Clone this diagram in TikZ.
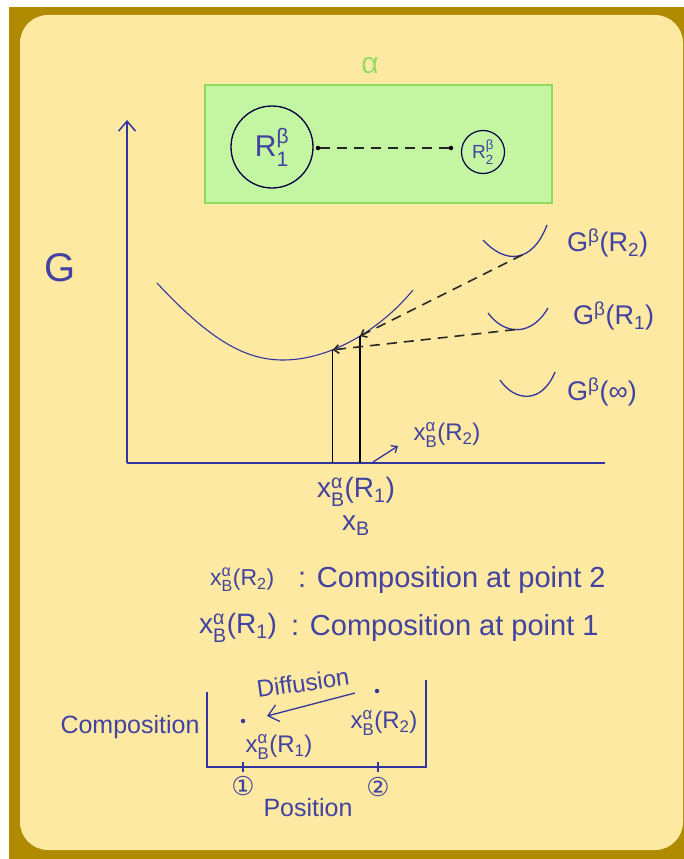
\documentclass[tikz,border=0pt]{standalone}
\usepackage{amsmath}
\usepackage{fontspec}
\setmainfont{Liberation Sans}
\newfontfamily\djv{DejaVu Sans}
\usetikzlibrary{arrows.meta}
\definecolor{gold}{HTML}{B08A00}
\definecolor{paper}{HTML}{FDE9A1}
\definecolor{boxfill}{HTML}{C3F5A3}
\definecolor{boxline}{HTML}{8EDB5C}
\definecolor{alphac}{HTML}{96DC64}
\definecolor{ink}{HTML}{4242A0}
\definecolor{curve}{HTML}{3434A0}
\newcommand\supsubx[2]{\ensuremath{{}^{\text{#1}}_{\text{#2}}}}
\newcommand\subx[1]{\ensuremath{{}_{\text{#1}}}}
\newcommand\supx[1]{\ensuremath{{}^{\text{#1}}}}
\newcommand\xBa[1]{x\supsubx{α}{B}(R\subx{#1})}
\newcommand\fs[1]{\fontsize{#1}{#1}\selectfont}
\begin{document}
\begin{tikzpicture}[x=1pt,y=-1pt,
  lbl/.style={text=ink, inner sep=0pt},
  curvesty/.style={draw=curve, line width=1.3pt},
  axis/.style={draw=curve, line width=1.5pt},
  vline/.style={draw=black, line width=1.6pt},
  dashsty/.style={draw=black!85, line width=1.6pt, dash pattern=on 10pt off 7pt},
  dotsty/.style={circle, fill=#1, inner sep=0pt, minimum size=4.5pt},
  barb/.style={-{Straight Barb[length=#1,width=1.7*#1]}}]
\useasboundingbox (0,0) rectangle (684,859);
\fill[white] (0,0) rectangle (684,859);
\fill[gold] (9,7) rectangle (684,859);
\fill[paper, rounded corners=28pt] (20,15) rectangle (683,850);

% alpha phase box
\node[lbl, text=alphac, font=\fs{30}] (alpha) at (370,66) {α};
\node[draw=boxline, fill=boxfill, line width=1.5pt, minimum width=347pt,
      minimum height=118pt, inner sep=0pt] (phase) at (378.5,144) {};
\node[circle, draw=black!75!blue, line width=1.3pt, minimum size=82pt, inner sep=0pt,
      text=ink, font=\fs{30}] (r1) at (272,147) {R\supsubx{β}{1}};
\node[circle, draw=black!75!blue, line width=1.2pt, minimum size=43pt, inner sep=0pt,
      text=ink, font=\fs{19}] (r2) at (483,152) {R\supsubx{β}{2}};
\node[dotsty=black] (d1) at (318,148) {};
\node[dotsty=black] (d2) at (451,148) {};
\draw[dashsty] (d1) -- (d2);

% axes
\coordinate (O) at (127,463);
\coordinate (ytop) at (127,120);
\coordinate (xend) at (605,463);
\draw[axis, barb=10pt] (O) -- (ytop);
\draw[axis] (O) -- (xend);
\node[lbl, font=\fs{40}] (G) at (60,268) {G};

% alpha free energy curve
\draw[curvesty, line width=1.1pt] (157,283) .. controls (210,340) and (245,360) .. (283,360)
   .. controls (330,360) and (380,330) .. (413,290)
   coordinate[pos=0.35] (t1) coordinate[pos=0.55] (t2);
\draw[vline] (t1) -- (t1 |- O);
\draw[vline] (t2) -- (t2 |- O);

% beta curves
\draw[curvesty] (483,240) .. controls (505,264) and (532,264) .. (547,225) coordinate[pos=0.57] (g2min);
\draw[curvesty] (488,313) .. controls (505,336) and (532,336) .. (548,308) coordinate[pos=0.45] (g1min);
\draw[curvesty] (500,380) .. controls (515,402) and (542,404) .. (555,372);
\draw[dashsty, barb=5pt] (g2min) -- (t2);
\draw[dashsty, barb=5pt] (g1min) -- (t1);

\node[lbl, anchor=west, font=\fs{27}] (lg2) at (567,243) {G\supx{β}(R\subx{2})};
\node[lbl, anchor=west, font=\fs{27}] (lg1) at (573,316) {G\supx{β}(R\subx{1})};
\node[lbl, anchor=west, font=\fs{27}] (lginf) at (567,392) {G\supx{β}(∞)};

% composition labels on axis
\node[lbl, font=\fs{24}] (lxr2) at (447,435) {\xBa{2}};
\coordinate (sa1) at (373,462);
\coordinate (sa2) at (398,446);
\draw[curvesty, barb=5pt] (sa1) -- (sa2);
\node[lbl, font=\fs{28}] (lxr1) at (356,492) {\xBa{1}};
\node[lbl, font=\fs{28}] (xb) at (356,526) {x\subx{B}};

% legend
\node[lbl, anchor=west, font=\fs{23}] (leg2a) at (210,580) {\xBa{2}};
\node[lbl, anchor=west, font=\fs{29}] (leg2b) at (298,580) {: Composition at point 2};
\node[lbl, anchor=west, font=\fs{28}] (leg1a) at (199,628) {\xBa{1}};
\node[lbl, anchor=west, font=\fs{29}] (leg1b) at (291,628) {: Composition at point 1};

% bottom diffusion sketch
\coordinate (tl) at (207,692);
\coordinate (bl) at (207,767);
\coordinate (br) at (426,767);
\coordinate (tr) at (426,680);
\draw[axis] (tl) -- (bl) -- (br) -- (tr);
\coordinate (k1) at (243,767);
\coordinate (k2) at (378,767);
\draw[axis] ([yshift=-5pt]k1) -- ([yshift=5pt]k1);
\draw[axis] ([yshift=-5pt]k2) -- ([yshift=5pt]k2);
\node[lbl, font=\djv\fs{26}] (c1) at (243,786) {①};
\node[lbl, font=\djv\fs{26}] (c2) at (378,787) {②};
\node[lbl, font=\fs{25}] (posl) at (308,808) {Position};
\node[lbl, font=\fs{25}] (comp) at (130,727) {Composition};
\node[dotsty=curve] (p1) at (243,721) {};
\node[dotsty=curve] (p2) at (377,691) {};
\node[lbl, font=\fs{24}] (lp1) at (279,747) {\xBa{1}};
\node[lbl, font=\fs{24}] (lp2) at (384,723) {\xBa{2}};
\coordinate (da1) at (355,693);
\coordinate (da2) at (267,716);
\draw[curvesty, barb=10pt] (da1) -- (da2);
\node[lbl, font=\fs{24}, rotate=8] (diff) at (303,683) {Diffusion};
\end{tikzpicture}
\end{document}
